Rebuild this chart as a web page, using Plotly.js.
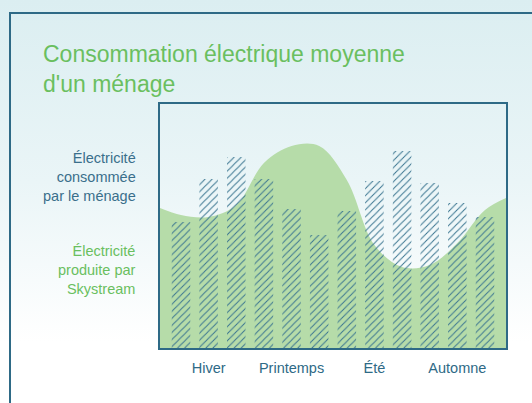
<!DOCTYPE html>
<html>
<head>
<meta charset="utf-8">
<script src="https://cdn.plot.ly/plotly-3.0.1.min.js"></script>
<style>
  html, body { margin:0; padding:0; width:532px; height:403px; overflow:hidden; }
  body { background: linear-gradient(to bottom, #dbeef1 0%, #eaf5f7 45%, #ffffff 85%); }
  #card { position:absolute; left:9px; top:12px; width:600px; height:500px;
          border-left:2px solid #2e6a86; border-top:2px solid #2e6a86; box-sizing:border-box; }
  #chart { position:absolute; left:0; top:0; width:532px; height:403px; }
</style>
</head>
<body>
<div id="card"></div>
<div id="chart"></div>
<script>
// Monthly consumption (arbitrary units)
const months = [0,1,2,3,4,5,6,7,8,9,10,11];
const consumption = [126,169,191,169,139,113,137,167,197,165,145,131];

// Production curve by Skystream (arbitrary units)
const prodX = [-0.76,0,1,2,3,4,5,6,7,8,9,10,11,11.76];
const production = [140,133,131,143,185,202,202,168,103,81,83,105,138,150];

const seasonTicks = [1,4,7,10];
const seasonLabels = ['Hiver','Printemps','Été','Automne'];

const green = '#b6dca9';
const blue = '#2e6a86';

const traces = [
  {
    type:'scatter', mode:'lines', x:prodX, y:production,
    line:{shape:'spline', smoothing:1.0, width:0, color:green},
    fill:'tozeroy', fillcolor:green, hoverinfo:'skip',
    xaxis:'x', yaxis:'y'
  },
  {
    type:'bar', x:months, y:consumption, width:0.67,
    marker:{color:'rgba(0,0,0,0)', line:{width:0},
      pattern:{shape:'/', fgcolor:'#3a7590', bgcolor:'rgba(0,0,0,0)', size:5, solidity:0.2}},
    xaxis:'x', yaxis:'y2'
  }
];

const yRange = [0,244];
const layout = {
  width:532, height:403,
  margin:{l:160, r:26, t:104, b:55},
  paper_bgcolor:'rgba(0,0,0,0)', plot_bgcolor:'rgba(0,0,0,0)',
  showlegend:false,
  font:{family:'Liberation Sans, Arial, sans-serif', color:blue},
  xaxis:{range:[-0.76,11.76], tickvals:seasonTicks, ticktext:seasonLabels,
    showgrid:false, zeroline:false, showline:true, mirror:true, linecolor:blue, linewidth:2,
    ticks:'', tickfont:{size:14.5, color:blue}, ticklabelstandoff:6},
  yaxis:{range:yRange, showgrid:false, zeroline:false, showticklabels:false,
    showline:true, mirror:true, linecolor:blue, linewidth:2, ticks:''},
  yaxis2:{range:yRange, overlaying:'y', showgrid:false, zeroline:false, showticklabels:false, ticks:''},
  annotations:[
    {xref:'paper', yref:'paper', x:-0.345, y:1.02, xanchor:'left', yanchor:'bottom',
     text:"Consommation électrique moyenne<br>d'un ménage", showarrow:false, align:'left',
     font:{size:23, color:'#6abf5f'}},
    {xref:'paper', yref:'paper', x:-0.064, y:0.70, xanchor:'right', yanchor:'middle',
     text:'Électricité<br>consommée<br>par le ménage', showarrow:false, align:'right',
     font:{size:14.5, color:'#3a6f8b'}},
    {xref:'paper', yref:'paper', x:-0.064, y:0.32, xanchor:'right', yanchor:'middle',
     text:'Électricité<br>produite par<br>Skystream', showarrow:false, align:'right',
     font:{size:14.5, color:'#6abf5f'}}
  ]
};

Plotly.newPlot('chart', traces, layout, {displayModeBar:false, staticPlot:true});
</script>
</body>
</html>
